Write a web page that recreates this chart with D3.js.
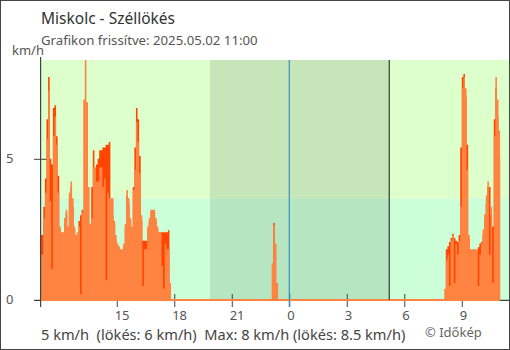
<!DOCTYPE html>
<html>
<head>
<meta charset="utf-8">
<script src="https://cdn.jsdelivr.net/npm/d3@7"></script>
<style>
  html, body { margin: 0; padding: 0; background: #fff; }
  svg { display: block; font-family: "Noto Sans", "Open Sans", sans-serif; }
</style>
</head>
<body>
<svg id="chart" width="510" height="350"></svg>
<script>
// Miskolc wind gust chart, 5-minute samples (km/h)

// 2025.05.01 11:00 – 17:50
const delutanKezdet = new Date(2025, 4, 1, 11, 0);
const delutanSzel = [2.3, 2.3, 3.3, 4.3, 6.4, 7.9, 5.0, 4.8, 6.8, 6.9, 5.8, 4.4, 2.5, 2.3, 2.3, 2.7, 3.1, 2.5, 3.6, 4.0,
  3.3, 2.5, 2.2, 2.3, 2.8, 3.0, 3.2, 3.1, 3.0, 3.0, 2.5, 2.6, 4.0, 5.3, 4.6, 4.8, 5.0, 5.3, 5.3, 5.4,
  5.4, 5.5, 5.5, 5.6, 3.0, 3.0, 2.7, 2.1, 1.9, 1.8, 1.7, 1.7, 1.9, 2.6, 3.7, 3.4, 2.8, 2.5, 4.0, 5.4,
  6.8, 6.4, 5.1, 2.8, 2.1, 2.1, 2.1, 2.5, 2.8, 3.1, 3.1, 3.1, 2.8, 2.5, 2.3, 2.4, 2.4, 2.4, 2.4, 2.4,
  2.47, 0];
const delutanLokes = [1.6, 1.6, 2.9, 3.8, 5.7, 7.4, 3.5, 1.1, 5.8, 6.5, 5.5, 3.8, 2.6, 2.4, 2.4, 2.9, 3.2, 2.6, 3.8, 4.2,
  3.6, 2.6, 2.3, 2.4, 2.6, 0.2, 3.1, 7.1, 8.5, 7.0, 4.0, 2.7, 2.9, 4.7, 4.7, 4.2, 4.2, 4.7, 4.7, 4.0,
  4.3, 0.7, 3.8, 3.6, 3.6, 3.6, 2.8, 2.3, 2.0, 1.9, 1.8, 1.8, 2.0, 2.7, 3.9, 3.6, 2.9, 2.6, 3.9, 4.6,
  6.3, 5.6, 4.5, 3.0, 0.5, 1.8, 1.8, 2.6, 2.9, 3.2, 3.2, 3.2, 2.9, 2.6, 2.4, 2.4, 1.2, 0.4, 2.0, 1.8,
  1.8, 0.6];

// 2025.05.01 23:05 – 23:20
const ejjelKezdet = new Date(2025, 4, 1, 23, 5);
const ejjelSzel = [0, 2.73, 0, 0];
const ejjelLokes = [1.3, 2.65, 2.0, 0.6];

// 2025.05.02 08:00 – 11:00
const reggelKezdet = new Date(2025, 4, 2, 8, 0);
const reggelSzel = [0, 0, 1.8, 1.9, 2.05, 2.2, 2.35, 2.2, 2.1, 2.05, 2.3, 5.4, 7.9, 8.0, 7.2, 5.5, 2.2, 1.7,
  1.7, 1.7, 1.7, 1.7, 1.87, 2.0, 2.05, 2.3, 2.9, 3.4, 4.0, 4.0, 3.0, 2.6, 6.4, 7.5, 6.5, 5.0];
const reggelLokes = [0, 0.4, 1.4, 1.6, 0.5, 2.1, 2.3, 0.6, 2.0, 1.6, 2.1, 3.3, 7.5, 7.9, 7.5, 4.6, 2.3, 1.8,
  1.8, 1.8, 1.8, 1.8, 0.5, 1.6, 2.0, 2.5, 3.05, 3.7, 4.2, 1.6, 3.3, 0.6, 5.8, 7.9, 7.1, 6.0];

const tengelyOrak = [new Date(2025, 4, 1, 15), new Date(2025, 4, 1, 18), new Date(2025, 4, 1, 21),
  new Date(2025, 4, 2, 0), new Date(2025, 4, 2, 3), new Date(2025, 4, 2, 6), new Date(2025, 4, 2, 9)];
const yTickek = [0, 5];
const napnyugta = new Date(2025, 4, 1, 19, 52);
const napkelte = new Date(2025, 4, 2, 5, 13);
const ejfel = new Date(2025, 4, 2, 0, 0);
const adatVege = new Date(2025, 4, 2, 11, 0);
const hatarErtek = 3.6; // 1 m/s

const cim = "Miskolc - Széllökés";
const alcim = "Grafikon frissítve: 2025.05.02 11:00";

const svg = d3.select("#chart");
const x = d3.scaleTime()
  .domain([delutanKezdet, new Date(2025, 4, 2, 11, 30)])
  .range([40.1, 509.7]);
const y = d3.scaleLinear().domain([0, 8.5]).range([300, 60]);

const plotL = 41, plotR = 509, plotT = 60, plotB = 300;

svg.append("rect").attr("width", 510).attr("height", 350).attr("fill", "#fff");

svg.append("defs").append("clipPath").attr("id", "plot")
  .append("rect").attr("x", plotL).attr("y", plotT).attr("width", plotR - plotL).attr("height", plotB - plotT);

const plot = svg.append("g").attr("clip-path", "url(#plot)");

// day and night bands, split at 1 m/s
plot.append("rect").attr("x", plotL).attr("width", plotR - plotL)
  .attr("y", plotT).attr("height", y(hatarErtek) - plotT).attr("fill", "#ddffcc");
plot.append("rect").attr("x", plotL).attr("width", plotR - plotL)
  .attr("y", y(hatarErtek)).attr("height", plotB - y(hatarErtek)).attr("fill", "#ccffd8");
plot.append("rect").attr("x", x(napnyugta)).attr("width", x(napkelte) - x(napnyugta))
  .attr("y", plotT).attr("height", y(hatarErtek) - plotT).attr("fill", "#c6e5b8");
plot.append("rect").attr("x", x(napnyugta)).attr("width", x(napkelte) - x(napnyugta))
  .attr("y", y(hatarErtek)).attr("height", plotB - y(hatarErtek)).attr("fill", "#b6e5c2");

// axes (ticks sit under the bars)
const xAxis = svg.append("g").attr("transform", "translate(0,294)")
  .call(d3.axisBottom(x).tickValues(tengelyOrak).tickSize(13).tickFormat(d3.timeFormat("%-H")));
xAxis.select(".domain").remove();
xAxis.selectAll("line").attr("stroke", "#444");
xAxis.selectAll("text").attr("y", 26).attr("dy", 0).attr("x", -2.6)
  .attr("text-anchor", "start").attr("fill", "#555")
  .style("font-family", "Noto Sans").style("font-size", "13px");

const yAxis = svg.append("g").attr("transform", "translate(47,0)")
  .call(d3.axisLeft(y).tickValues(yTickek).tickSize(13).tickFormat(d3.format("d")));
yAxis.select(".domain").remove();
yAxis.selectAll("line").attr("stroke", "#444");
yAxis.selectAll("text").attr("x", -41).attr("dy", "0.3em")
  .attr("text-anchor", "start").attr("fill", "#555")
  .style("font-family", "Noto Sans").style("font-size", "13px");

// x axis line
svg.append("line").attr("x1", 34).attr("x2", 509).attr("y1", 300.3).attr("y2", 300.3)
  .attr("stroke", "#444").attr("stroke-width", 1.2);

// data
const lepes = 5 * 60 * 1000;
function pontok(kezdet, ertekek) {
  const p = ertekek.map((v, k) => ({ t: new Date(+kezdet + k * lepes), v }));
  p.push({ t: new Date(+kezdet + ertekek.length * lepes), v: ertekek[ertekek.length - 1] });
  return p;
}
const terulet = d3.area().x(d => x(d.t)).y0(y(0)).y1(d => y(d.v)).curve(d3.curveStepAfter);

const blokkok = [
  [delutanKezdet, delutanSzel, delutanLokes],
  [ejjelKezdet, ejjelSzel, ejjelLokes],
  [reggelKezdet, reggelSzel, reggelLokes]
];
const adat = svg.append("g").attr("clip-path", "url(#plot)");
blokkok.forEach(([k, szel]) => {
  adat.append("path").attr("d", terulet(pontok(k, szel))).attr("fill", "#ff4500");
});
blokkok.forEach(([k, , lokes]) => {
  adat.append("path").attr("d", terulet(pontok(k, lokes))).attr("fill", "#ff8442");
});

// zero line of the series
svg.append("line").attr("x1", x(delutanKezdet)).attr("x2", x(adatVege))
  .attr("y1", 300).attr("y2", 300).attr("stroke", "#ff8442").attr("stroke-width", 2);

// midnight and sunrise markers
svg.append("line").attr("x1", x(ejfel)).attr("x2", x(ejfel)).attr("y1", plotT).attr("y2", 307)
  .attr("stroke", "#3a8fc2").attr("stroke-width", 1.2);
svg.append("line").attr("x1", x(napkelte)).attr("x2", x(napkelte)).attr("y1", plotT).attr("y2", plotB)
  .attr("stroke", "#3a3a3a").attr("stroke-width", 1.2);

// y axis line
svg.append("line").attr("x1", 40.6).attr("x2", 40.6).attr("y1", 57).attr("y2", 307)
  .attr("stroke", "#444").attr("stroke-width", 1.2);

// texts
svg.append("text").attr("x", 41).attr("y", 24).text(cim)
  .attr("fill", "#333").style("font-size", "15.5px");
svg.append("text").attr("x", 41).attr("y", 45).text(alcim)
  .attr("fill", "#555").style("font-size", "13.2px");
svg.append("text").attr("x", 12).attr("y", 55).text("km/h")
  .attr("fill", "#555").style("font-size", "13px");

const fmt = v => String(+v.toFixed(1));
const osszSzel = delutanSzel.concat(ejjelSzel, reggelSzel);
const osszLokes = delutanLokes.concat(ejjelLokes, reggelLokes);
const labSzoveg = `${fmt(reggelSzel[reggelSzel.length - 1])} km/h  (lökés: ${fmt(reggelLokes[reggelLokes.length - 1])} km/h)  Max: ${fmt(d3.max(osszSzel))} km/h (lökés: ${fmt(d3.max(osszLokes))} km/h)`;
svg.append("text").attr("x", 41).attr("y", 339.5).text(labSzoveg)
  .attr("fill", "#444").style("font-size", "14.6px").style("white-space", "pre");
svg.append("text").attr("x", 425).attr("y", 336.5).text("© Időkép")
  .attr("fill", "#666").style("font-size", "13px");

// frame
svg.append("rect").attr("x", 0.5).attr("y", 0.5).attr("width", 509).attr("height", 349)
  .attr("fill", "none").attr("stroke", "#444");
</script>
</body>
</html>
